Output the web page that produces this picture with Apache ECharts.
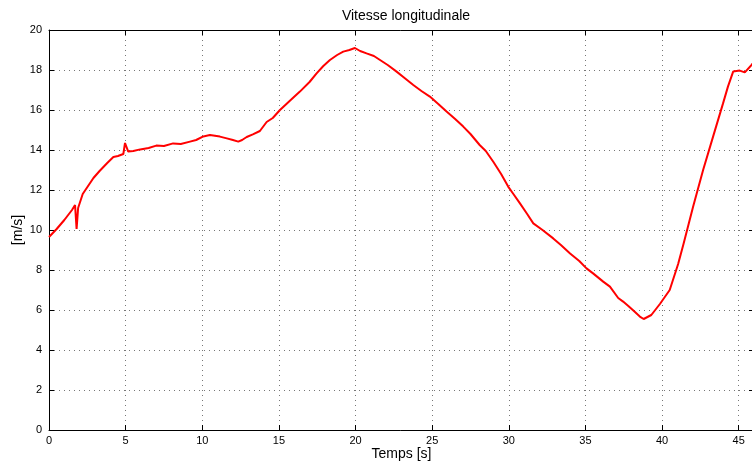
<!DOCTYPE html>
<html>
<head>
<meta charset="utf-8">
<script src="https://cdn.jsdelivr.net/npm/echarts@6/dist/echarts.min.js"></script>
<style>
  html, body { margin: 0; padding: 0; background: #fff; }
  #main { width: 752px; height: 468px; }
</style>
</head>
<body>
<div id="main"></div>
<script>
// temps [s] et vitesse [m/s]
var temps = [0, 0.5, 1, 1.5, 1.7, 1.8, 1.9, 2.2, 2.9, 3.3, 3.8, 4.2, 4.5, 4.85, 4.96, 5.17, 5.5, 5.95,
  6.5, 7, 7.5, 8.1, 8.6, 9.2, 9.6, 10.07, 10.5, 11.15, 11.6, 12.0, 12.35, 12.6, 12.9, 13.3, 13.76,
  14.2, 14.6, 15.07, 15.7, 16.37, 17.0, 17.46, 17.9, 18.33, 18.8, 19.2, 19.6, 19.96, 20.3, 20.72,
  21.2, 21.6, 22.1, 22.68, 23.2, 23.77, 24.3, 24.85, 25.4, 25.94, 26.5, 27.03, 27.5, 28.1, 28.5,
  29.0, 29.5, 29.96, 30.3, 30.73, 31.2, 31.6, 32.2, 32.9, 33.4, 34.0, 34.6, 35.07, 35.5, 36.16,
  36.6, 37.14, 37.46, 37.8, 38.2, 38.55, 38.8, 38.9, 39.3, 39.86, 40.5, 41.05, 41.4, 42.03, 42.68,
  43.33, 43.98, 44.3, 44.64, 45.07, 45.4, 45.84, 46];
var vitesse = [9.65, 10.05, 10.5, 11.0, 11.25, 10.05, 11.1, 11.8, 12.6, 12.95, 13.35, 13.65, 13.7, 13.8, 14.35, 13.92, 13.95, 14.03,
  14.1, 14.22, 14.2, 14.33, 14.3, 14.42, 14.5, 14.68, 14.75, 14.67, 14.58, 14.5, 14.42, 14.5, 14.65, 14.78, 14.95,
  15.4, 15.6, 16.0, 16.45, 16.92, 17.4, 17.83, 18.2, 18.5, 18.75, 18.92, 19.0, 19.1, 18.95, 18.83,
  18.7, 18.5, 18.25, 17.92, 17.6, 17.25, 16.95, 16.67, 16.3, 15.92, 15.55, 15.17, 14.8, 14.25, 13.95,
  13.4, 12.8, 12.17, 11.8, 11.33, 10.8, 10.33, 10.0, 9.58, 9.25, 8.83, 8.45, 8.08, 7.83, 7.42,
  7.17, 6.6, 6.42, 6.2, 5.92, 5.67, 5.55, 5.58, 5.75, 6.3, 7.0, 8.3, 9.3, 11.17, 13.0,
  14.67, 16.33, 17.17, 17.92, 17.97, 17.88, 18.25, 18.4];

var myChart = echarts.init(document.getElementById('main'));

var police = 'Liberation Sans, Arial, sans-serif';
var grille = { show: true, lineStyle: { color: '#777', type: [1, 4], width: 1 } };
var ligneAxe = { show: true, onZero: false, lineStyle: { color: '#000', width: 1 } };
var tickDedans = { show: true, inside: true, length: 5, lineStyle: { color: '#000' } };

var option = {
  animation: false,
  backgroundColor: '#fff',
  title: {
    text: 'Vitesse longitudinale',
    left: 401, top: 4, textAlign: 'center',
    textStyle: { color: '#000', fontSize: 14, fontWeight: 'normal', fontFamily: police }
  },
  // le cadre déborde à droite, comme l'original coupé
  grid: { left: 49, top: 30, right: -2, bottom: 38, outerBoundsMode: 'none', containLabel: false },
  xAxis: [{
    type: 'value', min: 0, max: 46, interval: 5,
    name: 'Temps [s]', nameLocation: 'middle', nameGap: 17, nameMoveOverlap: false,
    nameTextStyle: { color: '#000', fontSize: 14, fontFamily: police },
    axisLine: ligneAxe, axisTick: tickDedans,
    axisLabel: { color: '#000', fontSize: 11, fontFamily: police, margin: 5, showMaxLabel: false },
    splitLine: grille
  }, {
    type: 'value', min: 0, max: 46, interval: 5, position: 'top',
    axisLine: ligneAxe, axisTick: tickDedans,
    axisLabel: { show: false }, splitLine: { show: false }
  }],
  yAxis: [{
    type: 'value', min: 0, max: 20, interval: 2,
    name: '[m/s]', nameLocation: 'middle', nameGap: 24, nameRotate: 90, nameMoveOverlap: false,
    nameTextStyle: { color: '#000', fontSize: 14, fontFamily: police },
    axisLine: ligneAxe, axisTick: tickDedans,
    axisLabel: { color: '#000', fontSize: 11, fontFamily: police, margin: 7 },
    splitLine: grille
  }, {
    type: 'value', min: 0, max: 20, interval: 2, position: 'right',
    axisLine: ligneAxe, axisTick: tickDedans,
    axisLabel: { show: false }, splitLine: { show: false }
  }],
  series: [{
    type: 'line',
    data: temps.map(function (t, i) { return [t, vitesse[i]]; }),
    showSymbol: false,
    lineStyle: { color: '#ff0000', width: 2 },
    itemStyle: { color: '#ff0000' },
    z: 3
  }]
};
myChart.setOption(option);
</script>
</body>
</html>
